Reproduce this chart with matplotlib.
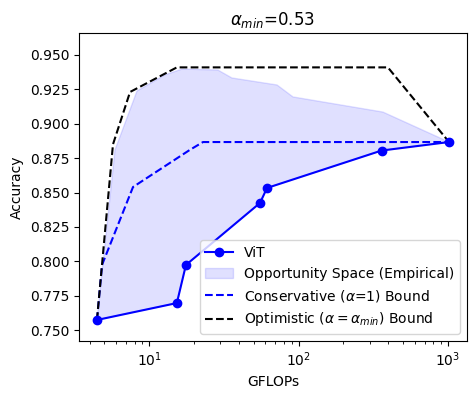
import matplotlib
matplotlib.use("Agg")
import matplotlib.pyplot as plt

# ViT models
vit_gflops = [4.46, 15.3, 17.6, 55.2, 61.5, 360, 1020]
vit_acc = [0.7573, 0.7696, 0.7973, 0.8424, 0.8533, 0.8805, 0.8867]

# Empirical opportunity upper envelope
opp_gflops = [4.46, 5.89, 8.27, 12.7, 16.6, 28.8, 35.8, 71.8, 91.9, 368, 1020]
opp_acc = [0.7573, 0.8809, 0.9238, 0.9355, 0.9398, 0.9391, 0.9333, 0.9282, 0.9195, 0.9085, 0.8867]

# Conservative bound (alpha = 1)
cons_gflops = [4.46, 4.82, 7.78, 18.7, 22.9, 1020]
cons_acc = [0.7573, 0.7973, 0.8540, 0.8810, 0.8867, 0.8867]

# Optimistic bound (alpha = alpha_min)
opt_gflops = [4.46, 5.71, 7.43, 15.3, 397, 1020]
opt_acc = [0.7573, 0.8850, 0.9231, 0.9410, 0.9410, 0.8867]

fig = plt.figure(figsize=(4.76, 3.99), dpi=100)
ax = fig.add_axes([79/476, 1-341/399, (467-79)/476, (341-33)/399])

poly_x = opp_gflops + vit_gflops[::-1]
poly_y = opp_acc + vit_acc[::-1]
h_fill = ax.fill(poly_x, poly_y, color='blue', alpha=0.12, label='Opportunity Space (Empirical)')[0]
h_cons, = ax.plot(cons_gflops, cons_acc, 'b--', label=r'Conservative ($\alpha$=1) Bound')
h_opt, = ax.plot(opt_gflops, opt_acc, 'k--', label=r'Optimistic ($\alpha=\alpha_{min}$) Bound')
h_vit, = ax.plot(vit_gflops, vit_acc, 'b-o', label='ViT')

ax.set_xscale('log')
ax.set_xlim(3.38, 1346)
ax.set_ylim(0.742, 0.966)
ax.set_yticks([0.75, 0.775, 0.8, 0.825, 0.85, 0.875, 0.9, 0.925, 0.95])
ax.set_xlabel('GFLOPs')
ax.set_ylabel('Accuracy')
ax.set_title(r'$\alpha_{min}$=0.53')
ax.legend(handles=[h_vit, h_fill, h_cons, h_opt], loc='lower right')

fig.savefig('out.png', dpi=100)
